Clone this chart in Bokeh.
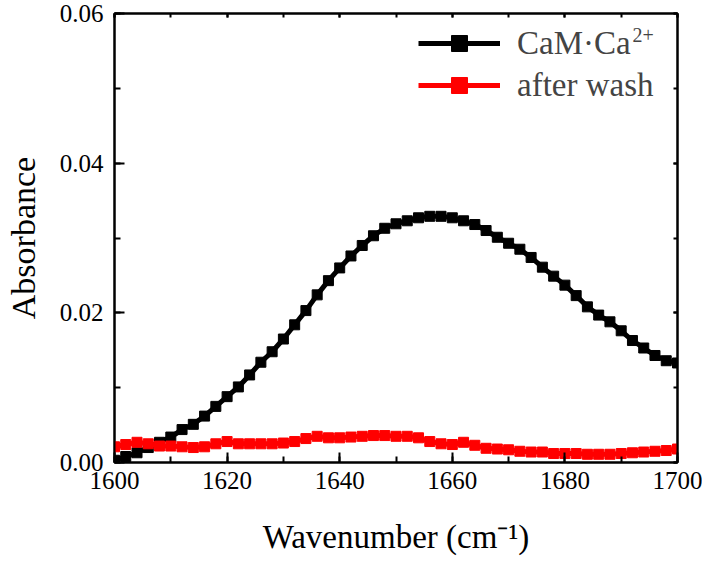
from bokeh.plotting import figure
from bokeh.models import (Range1d, SingleIntervalTicker, NumeralTickFormatter,
                          Legend, LegendItem, Label, LinearAxis, CustomJSTickFormatter)
from bokeh.embed import file_html
from bokeh.resources import INLINE

wavenumber = list(range(1600, 1701, 2))
cam_ca = [0.0003, 0.0008, 0.0013, 0.0020, 0.0027, 0.0034, 0.0044, 0.0051, 0.0062, 0.0075,
          0.0088, 0.0101, 0.0117, 0.0134, 0.0148, 0.0165, 0.0184, 0.0203, 0.0224, 0.0243,
          0.0260, 0.0276, 0.0290, 0.0303, 0.0313, 0.0319, 0.0323, 0.0327, 0.0329, 0.0329,
          0.0327, 0.0323, 0.0318, 0.0310, 0.0301, 0.0293, 0.0285, 0.0274, 0.0261, 0.0249,
          0.0237, 0.0223, 0.0208, 0.0197, 0.0188, 0.0176, 0.0163, 0.0153, 0.0143, 0.0136,
          0.0133]
after_wash = [0.0021, 0.0024, 0.0027, 0.0025, 0.0022, 0.0022, 0.0021, 0.0020, 0.0021, 0.0025,
              0.0028, 0.0025, 0.0025, 0.0025, 0.0025, 0.0026, 0.0028, 0.0032, 0.0035, 0.0033,
              0.0033, 0.0034, 0.0035, 0.0036, 0.0036, 0.0035, 0.0035, 0.0033, 0.0028, 0.0025,
              0.0024, 0.0027, 0.0023, 0.0019, 0.0018, 0.0017, 0.0015, 0.0014, 0.0014, 0.0012,
              0.0012, 0.0012, 0.0011, 0.0011, 0.0011, 0.0012, 0.0013, 0.0014, 0.0015, 0.0016,
              0.0018]
series_labels = ["CaM·Ca", "after wash"]
series_sup = "2+"
x_title = "Wavenumber (cm\u207b\u00b9)"
y_title = "Absorbance"

FONT = "Liberation Serif"

p = figure(width=702, height=559, output_backend="svg", toolbar_location=None,
           x_range=Range1d(1600, 1700), y_range=Range1d(0, 0.06),
           min_border_left=114, min_border_right=25, min_border_top=13,
           min_border_bottom=97)
p.grid.visible = False
p.outline_line_color = "black"
p.outline_line_width = 2
p.background_fill_color = "white"
p.border_fill_color = "white"

for ax in (p.xaxis[0], p.yaxis[0]):
    ax.axis_line_width = 2
    ax.major_tick_line_width = 2
    ax.minor_tick_line_width = 2
    ax.major_tick_in = 10
    ax.major_tick_out = 0
    ax.minor_tick_in = 6
    ax.minor_tick_out = 0
    ax.major_label_text_font = FONT
    ax.major_label_text_font_size = "25px"
    ax.major_label_text_color = "black"
    ax.axis_label_text_font = FONT
    ax.axis_label_text_font_style = "normal"
    ax.axis_label_text_color = "black"

p.xaxis[0].ticker = SingleIntervalTicker(interval=20, num_minor_ticks=2)
p.xaxis[0].major_label_standoff = 9
p.xaxis[0].axis_label = x_title
p.xaxis[0].axis_label_text_font_size = "33px"
p.xaxis[0].axis_label_standoff = 27
p.yaxis[0].ticker = SingleIntervalTicker(interval=0.02, num_minor_ticks=2)
p.yaxis[0].formatter = NumeralTickFormatter(format="0.00")
p.yaxis[0].major_label_standoff = 11
p.yaxis[0].axis_label = y_title
p.yaxis[0].axis_label_text_font_size = "34px"
p.yaxis[0].axis_label_standoff = 15

# top and right frame axes with short inner ticks and no labels
for side, interval in (("above", 20), ("right", 0.02)):
    ax = LinearAxis(ticker=SingleIntervalTicker(interval=interval, num_minor_ticks=2),
                    formatter=CustomJSTickFormatter(code="return ''"),
                    major_label_text_font_size="0px", major_label_standoff=0,
                    axis_line_width=2, major_tick_line_width=2, minor_tick_line_width=2,
                    major_tick_in=4, major_tick_out=0, minor_tick_in=4, minor_tick_out=0)
    p.add_layout(ax, side)

l1 = p.line(wavenumber, cam_ca, line_color="black", line_width=5)
s1 = p.scatter(wavenumber, cam_ca, marker="square", size=10, color="black")
l2 = p.line(wavenumber, after_wash, line_color="red", line_width=5)
s2 = p.scatter(wavenumber, after_wash, marker="square", size=10, color="red")

legend = Legend(items=[LegendItem(label=series_labels[0], renderers=[l1, s1]),
                       LegendItem(label=series_labels[1], renderers=[l2, s2])],
                location=(304, 357), glyph_width=82, glyph_height=40, label_height=40,
                label_standoff=17, spacing=2, padding=0, margin=0,
                label_text_font=FONT, label_text_font_size="33px",
                border_line_color=None, background_fill_alpha=0)
p.add_layout(legend, "center")

p.add_layout(Label(x=518, y=428, x_units="screen", y_units="screen", text=series_sup,
                   text_font=FONT, text_font_size="20px", text_baseline="alphabetic"))

open("out.html", "w").write(file_html(p, INLINE))
